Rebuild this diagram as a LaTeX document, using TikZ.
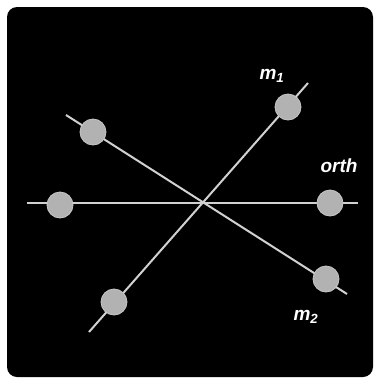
\documentclass[tikz,border=0pt]{standalone}
\usepackage{fontspec}
\setmainfont{Liberation Sans}
\begin{document}
\begin{tikzpicture}[x=1pt,y=-1pt,
  ax/.style={draw=black!18, line width=2pt},
  ball/.style={circle, fill=black!30, draw=black!22, line width=0.8pt, minimum size=26pt, inner sep=0pt},
  lbl/.style={text=white, font=\fontsize{19}{22}\selectfont\bfseries\itshape}]
\useasboundingbox (0,0) rectangle (378,384);
\fill[white] (0,0) rectangle (378,384);
\fill[black, rounded corners=10pt] (7,7) rectangle (373,377);
% axes endpoints
\coordinate (h1) at (27,203);
\coordinate (h2) at (358,203);
\coordinate (a1) at (89,332);
\coordinate (a2) at (308,83);
\coordinate (b1) at (66,115);
\coordinate (b2) at (347,294);
\draw[ax] (h1) -- (h2);
\draw[ax] (a1) -- (a2);
\draw[ax] (b1) -- (b2);
% balls
\node[ball] (p1) at (288,107) {};
\node[ball] (p2) at (93,132) {};
\node[ball] (p3) at (60,205) {};
\node[ball] (p4) at (330,203) {};
\node[ball] (p5) at (326,279) {};
\node[ball] (p6) at (114,302) {};
% labels
\node[lbl] (l1) at (272,76) {m\textsubscript{1}};
\node[lbl] (l2) at (339,166) {orth};
\node[lbl] (l3) at (306,317) {m\textsubscript{2}};
\end{tikzpicture}
\end{document}
